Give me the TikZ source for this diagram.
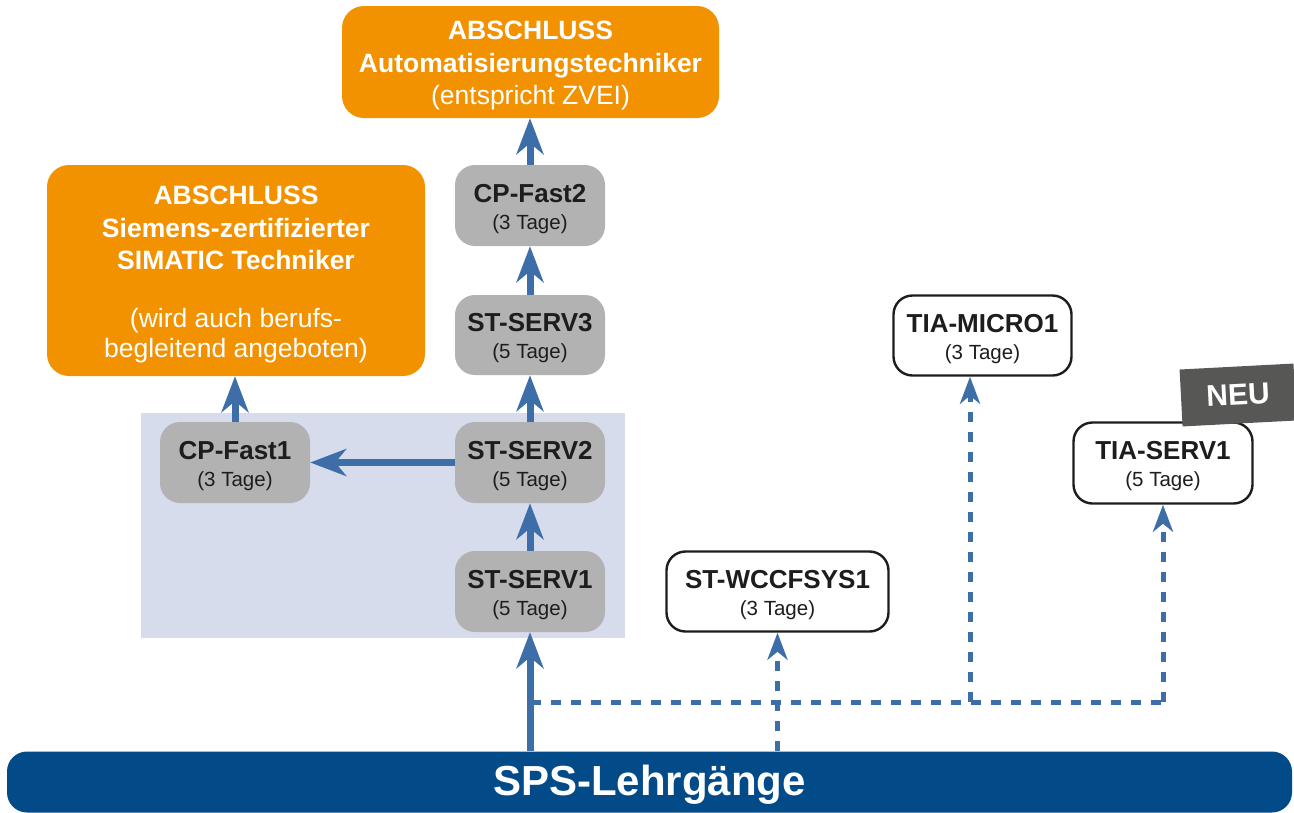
\documentclass[tikz,border=0pt]{standalone}
\usepackage{fontspec}
\setmainfont{Liberation Sans}
\usetikzlibrary{arrows.meta}
\definecolor{orng}{HTML}{F39200}
\definecolor{grayb}{HTML}{B2B2B2}
\definecolor{arrblue}{HTML}{3E6EA8}
\definecolor{bgblue}{HTML}{D7DCEC}
\definecolor{barblue}{HTML}{024B88}
\definecolor{neugray}{HTML}{575756}
\definecolor{txtdark}{HTML}{1D1D1B}
\newcommand{\ttlf}{\fontsize{26}{27}\selectfont\bfseries}
\newcommand{\subff}{\fontsize{20.5}{27}\selectfont\mdseries}
\newcommand{\tstrut}{\rule{0pt}{24.5pt}}
\newcommand{\ostrut}{\rule{0pt}{26pt}}
\begin{document}
\begin{tikzpicture}[x=1pt,y=-1pt,
  orangebox/.style={fill=orng, rounded corners=22pt, inner sep=0pt, align=center, text=white,
     font=\fontsize{26.5}{32.5}\selectfont},
  graybox/.style={fill=grayb, rounded corners=20pt, inner sep=0pt, align=center, text=txtdark,
     minimum width=150pt, minimum height=81pt, font=\subff},
  whitebox/.style={draw=txtdark, line width=2.4pt, fill=white, rounded corners=19pt, inner sep=0pt,
     align=center, text=txtdark, minimum height=80pt, font=\subff},
  solidarrow/.style={draw=arrblue, line width=7pt, -{Stealth[length=36pt,width=27pt,inset=11pt]}},
  dasharrow/.style={draw=arrblue, line width=5pt, dash pattern=on 10pt off 10pt,
     -{Stealth[length=27pt,width=20pt,inset=8pt]}},
  dashline/.style={draw=arrblue, line width=5pt, dash pattern=on 10pt off 10pt}
]
\useasboundingbox (0,0) rectangle (1294,812);

% background panel
\fill[bgblue] (141,413) rectangle (625,638);

% orange goal boxes
\node[orangebox, minimum width=377pt, minimum height=112pt] (top) at (530.5,62)
  {\ostrut\bfseries ABSCHLUSS\\\bfseries Automatisierungstechniker\\(entspricht ZVEI)};
\node[orangebox, minimum width=378pt, minimum height=211pt] (left) at (236,270.5)
  {\rule{0pt}{27pt}\bfseries ABSCHLUSS\\\bfseries Siemens-zertifizierter\\\bfseries SIMATIC Techniker\\[25.5pt](wird auch berufs-\\[-2.5pt]begleitend angeboten)};

% gray course boxes
\node[graybox] (cpf2) at (530,205.5) {{\ttlf\tstrut CP-Fast2}\\(3 Tage)};
\node[graybox, minimum height=80pt] (serv3) at (530,335) {{\ttlf\tstrut ST-SERV3}\\(5 Tage)};
\node[graybox] (serv2) at (530,462.5) {{\ttlf\tstrut ST-SERV2}\\(5 Tage)};
\node[graybox] (serv1) at (530,591.5) {{\ttlf\tstrut ST-SERV1}\\(5 Tage)};
\node[graybox] (cpf1) at (235,462.5) {{\ttlf\tstrut CP-Fast1}\\(3 Tage)};

% white course boxes
\node[whitebox, minimum width=178pt] (micro) at (982.5,335.5) {{\ttlf\tstrut TIA-MICRO1}\\(3 Tage)};
\node[whitebox, minimum width=179pt, minimum height=81pt] (tias) at (1163,463) {{\ttlf\tstrut TIA-SERV1}\\(5 Tage)};
\node[whitebox, minimum width=222pt] (wcc) at (777.5,591.5) {{\ttlf\tstrut ST-WCCFSYS1}\\(3 Tage)};

% bottom bar
\node[fill=barblue, rounded corners=20pt, minimum width=1285pt, minimum height=61pt, inner sep=0pt,
  text=white, font=\fontsize{42}{44}\selectfont\bfseries] (bar) at (649.5,782) {\rule{0pt}{36pt}SPS-Lehrgänge};

% NEU badge
\node[fill=neugray, rotate=3, minimum width=114pt, minimum height=57pt, inner sep=0pt,
  text=white, font=\fontsize{30}{32}\selectfont\bfseries] (neu) at (1238,395) {NEU};

% solid arrows
\draw[solidarrow] (serv1.south |- bar.north) -- (serv1.south);
\draw[solidarrow] (serv1.north) -- (serv2.south);
\draw[solidarrow] (serv2.north) -- (serv3.south);
\draw[solidarrow] (serv3.north) -- (cpf2.south);
\draw[solidarrow] (cpf2.north) -- (cpf2.north |- top.south);
\draw[solidarrow] (cpf1.north) -- (cpf1.north |- left.south);
\draw[solidarrow] (serv2.west) -- (cpf1.east);

% dashed connections
\coordinate (ja) at (531,702);
\coordinate (jm) at (970,702);
\draw[dashline] (ja) -- (ja -| tias.south);
\draw[dasharrow] (ja -| tias.south) -- (tias.south);
\draw[dasharrow] (jm) -- (jm |- micro.south);
\draw[dasharrow] (wcc.south |- bar.north) -- (wcc.south);
\end{tikzpicture}
\end{document}
